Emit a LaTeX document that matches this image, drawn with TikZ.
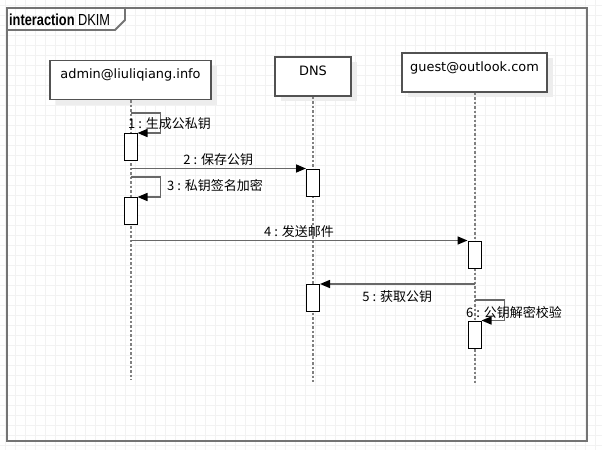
\documentclass[tikz,border=0pt]{standalone}
\usepackage{fontspec}
\setmainfont{DejaVu Sans}
\newfontfamily\cjk{Noto Sans CJK SC}
\newfontfamily\titlefont{Liberation Sans}
\usetikzlibrary{arrows.meta,shadows}
\definecolor{framegray}{HTML}{747474}
\definecolor{linegray}{HTML}{686868}
\definecolor{gridgray}{HTML}{F2F2F2}
\tikzstyle{gridline}=[draw=gridgray,line width=0.8pt]
\tikzstyle{frame}=[draw=framegray,line width=1.8pt]
\tikzstyle{head}=[rectangle,draw=black!68,line width=1.3pt,fill=white,inner sep=0pt,minimum height=39pt,text height=18pt,text depth=21pt,font=\fontsize{12.9}{15}\selectfont,drop shadow={shadow xshift=6pt,shadow yshift=-5pt,fill=black!7,opacity=1}]
\tikzstyle{act}=[rectangle,draw=black,line width=1pt,fill=white,minimum width=13pt,minimum height=27pt,inner sep=0pt]
\tikzstyle{life}=[draw=gray,line width=2pt,dash pattern=on 2.5pt off 2pt]
\tikzstyle{msg}=[draw=linegray,line width=1.5pt,-{Triangle[length=10pt,width=8pt,color=black]}]
\tikzstyle{lbl}=[inner sep=0pt,font=\cjk\fontsize{13}{15}\selectfont]

\begin{document}
\begin{tikzpicture}[x=1pt,y=-1pt]
\useasboundingbox (0,0) rectangle (602,450);
\fill[white] (0,0) rectangle (602,450);
% background grid
\foreach \gx in {5,15,...,595} \draw[gridline] (\gx,0) -- (\gx,450);
\foreach \gy in {5,15,...,445} \draw[gridline] (0,\gy) -- (602,\gy);
% interaction frame
\draw[frame] (7,8) rectangle (587,441);
\draw[frame] (7,30) -- (115,30) -- (125,20) -- (125,8);
\node[anchor=base west,inner sep=0pt,xscale=0.8,transform shape,font=\titlefont\fontsize{16}{18}\selectfont] (title) at (9,25) {\textbf{interaction} DKIM};
% lifelines
\node[head,minimum width=161pt] (admin) at (130.5,80) {admin@liuliqiang.info};
\node[head,minimum width=76pt] (dns) at (313,76.5) {DNS};
\node[head,minimum width=145pt] (guest) at (474.5,72.5) {guest@outlook.com};
\coordinate (adminEnd) at (admin.south |- 0,380);
\coordinate (dnsEnd) at (dns.south |- 0,382);
\coordinate (guestEnd) at (guest.south |- 0,384);
\draw[life] (admin.south) -- (adminEnd);
\draw[life] (dns.south) -- (dnsEnd);
\draw[life] (guest.south) -- (guestEnd);
% activations
\node[act] (act1) at (admin |- 0,147) {};
\node[act] (act2) at (dns |- 0,182.5) {};
\node[act] (act3) at (admin |- 0,211) {};
\node[act] (act4) at (guest |- 0,254.5) {};
\node[act] (act5) at (dns |- 0,298) {};
\node[act] (act6) at (guest |- 0,334.5) {};
% messages
\coordinate (s1) at (admin |- 0,113);
\coordinate (s3) at (admin |- 0,177);
\coordinate (s6) at (guest |- 0,300);
\draw[msg] (s1) -- ++(30,0) |- (act1.north east);
\draw[msg] (admin |- act2.north west) -- node[lbl,above=2pt] (m2) {2 : 保存公钥} (act2.north west);
\draw[msg] (s3) -- ++(30,0) |- (act3.north east);
\draw[msg] (admin |- act4.north west) -- node[lbl,above=2pt] (m4) {4 : 发送邮件} (act4.north west);
\draw[msg] (guest |- act5.north east) -- node[lbl,below=6pt] (m5) {5 : 获取公钥} (act5.north east);
\draw[msg] (s6) -- ++(30,0) |- (act6.north east);
\node[lbl,anchor=west] (m1) at (128,124) {1 : 生成公私钥};
\node[lbl,anchor=west] (m3) at (167,186) {3 : 私钥签名加密};
\node[lbl,anchor=west] (m6) at (466,313) {6 : 公钥解密校验};
\end{tikzpicture}
\end{document}
